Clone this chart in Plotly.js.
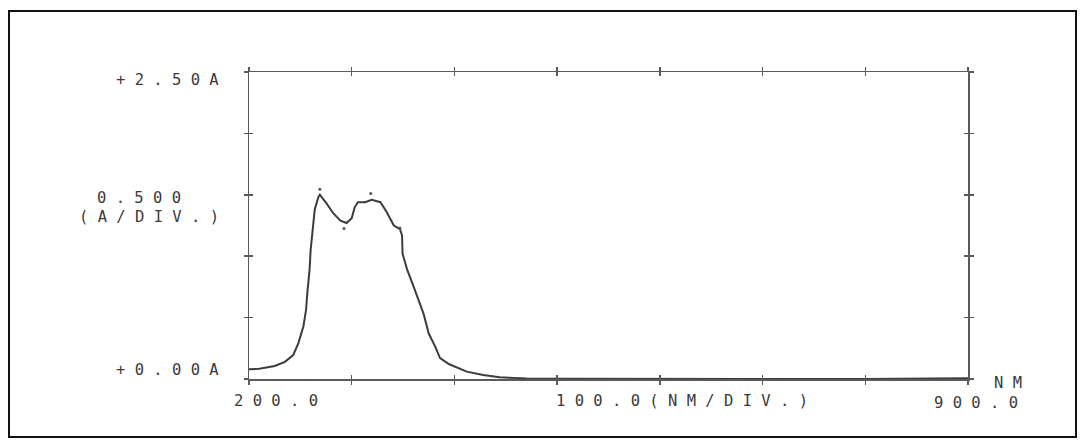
<!DOCTYPE html>
<html>
<head>
<meta charset="utf-8">
<script src="https://cdn.plot.ly/plotly-3.0.1.min.js"></script>
<style>
  html, body { margin: 0; padding: 0; background: #fff; }
  #wrap { position: relative; width: 1084px; height: 443px; }
  #chart { position: absolute; left: 0; top: 0; width: 1084px; height: 443px; }
  #frame { position: absolute; left: 8px; top: 10px; width: 1065px; height: 424px;
           border: 2px solid #111; pointer-events: none; }
</style>
</head>
<body>
<div id="wrap">
  <div id="chart"></div>
  <div id="frame"></div>
</div>
<script>
// Wavelength (nm) and absorbance (A)
const wavelength = [200, 210, 225, 235, 243, 248, 253, 255.5, 257, 259, 260, 262, 264, 267.5, 269,
  275.5, 282, 289, 295, 300, 303, 306, 313, 319.5, 328, 334, 341, 347, 349, 349.5, 354, 359, 365,
  370, 375, 381.5, 386, 395, 412, 428, 444, 470, 500, 550, 600, 700, 800, 865, 875, 900];
const absorbance = [0.079, 0.083, 0.106, 0.14, 0.195, 0.29, 0.43, 0.56, 0.72, 0.89, 1.05, 1.25, 1.38, 1.48, 1.50,
  1.43, 1.35, 1.29, 1.27, 1.31, 1.40, 1.44, 1.44, 1.46, 1.44, 1.36, 1.25, 1.22, 1.17, 1.02, 0.89, 0.78, 0.64,
  0.53, 0.37, 0.26, 0.17, 0.12, 0.06, 0.033, 0.014, 0.005, 0.002, 0, 0, 0, 0, 0, 0.006, 0.006];

// Peak / valley pick marks
const peakWavelength = [269, 292.5, 318.5, 347];
const peakAbsorbance = [1.545, 1.225, 1.51, 1.23];

// Tick positions and labels
const xTickVals = [200, 300, 400, 500, 600, 700, 800, 900];
const yTickVals = [0, 0.5, 1.0, 1.5, 2.0, 2.5];
const yTopLabel = "+2.50A";
const yBottomLabel = "+0.00A";
const yScaleLabel = "0.500";
const yScaleUnit = "(A/DIV.)";
const xStartLabel = "200.0";
const xScaleLabel = "100.0(NM/DIV.)";
const xEndLabel = "900.0";
const xUnitLabel = "NM";

const spaced = s => s.split('').join(' ');

const W = 1084, H = 443;
const L = 249, R = 968, T = 72, B = 379;
const px = x => (x - L) / (R - L);
const py = y => (B - y) / (B - T);

const FONT = { family: 'DejaVu Sans Mono, Liberation Mono, monospace', size: 15.5, color: '#3a3a3a' };

function label(text, xPix, yPix, extra) {
  return Object.assign({
    text: spaced(text), xref: 'paper', yref: 'paper',
    x: px(xPix), y: py(yPix), xanchor: 'left', yanchor: 'middle',
    showarrow: false, font: FONT, borderpad: 0
  }, extra || {});
}

const traces = [
  { x: wavelength, y: absorbance, type: 'scatter', mode: 'lines',
    line: { color: '#3c3c3c', width: 2 }, hoverinfo: 'skip', showlegend: false },
  { x: peakWavelength, y: peakAbsorbance, type: 'scatter', mode: 'markers',
    marker: { color: '#555', size: 3 }, hoverinfo: 'skip', showlegend: false },
  { x: wavelength, y: absorbance, xaxis: 'x2', yaxis: 'y2', type: 'scatter', mode: 'lines',
    line: { color: 'rgba(0,0,0,0)', width: 0 }, hoverinfo: 'skip', showlegend: false }
];

const axisCommon = {
  showgrid: false, zeroline: false, showline: true, linecolor: '#5a5a5a', linewidth: 1.5,
  tickcolor: '#5a5a5a', tickwidth: 1.5, showticklabels: false, mirror: 'ticks', tickmode: 'array'
};

const layout = {
  width: W, height: H,
  margin: { l: L, r: W - R, t: T, b: H - B, pad: 0 },
  paper_bgcolor: '#fff', plot_bgcolor: '#fff',
  showlegend: false,
  xaxis: Object.assign({}, axisCommon, { range: [200, 900], tickvals: xTickVals, ticks: 'inside', ticklen: 4 }),
  yaxis: Object.assign({}, axisCommon, { range: [0, 2.5], tickvals: yTickVals, ticks: 'inside', ticklen: 4 }),
  xaxis2: Object.assign({}, axisCommon, { range: [200, 900], tickvals: xTickVals, ticks: 'outside', ticklen: 4,
    overlaying: 'x', side: 'bottom', anchor: 'y2' }),
  yaxis2: Object.assign({}, axisCommon, { range: [0, 2.5], tickvals: yTickVals, ticks: 'outside', ticklen: 4,
    overlaying: 'y', side: 'left', anchor: 'x2' }),
  annotations: [
    label(yTopLabel, 115, 80),
    label(yBottomLabel, 115, 370),
    label(yScaleLabel, 96, 198),
    label(yScaleUnit, 78, 217),
    label(xStartLabel, 233, 401),
    label(xScaleLabel, 555, 401),
    label(xEndLabel, 933, 403),
    label(xUnitLabel, 993, 383)
  ]
};

Plotly.newPlot('chart', traces, layout, { displayModeBar: false, staticPlot: true });
</script>
</body>
</html>
